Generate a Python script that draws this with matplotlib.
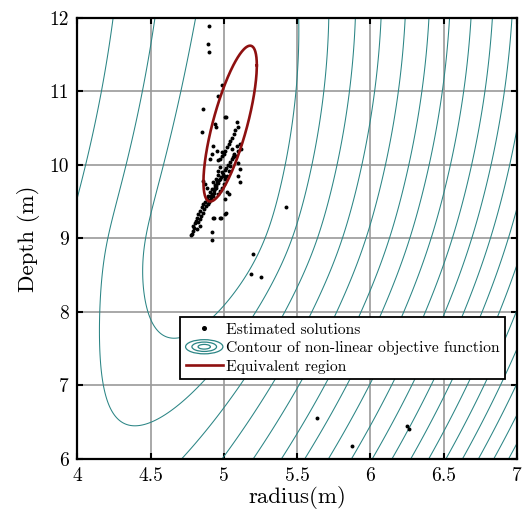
import numpy as np
import matplotlib
matplotlib.use("Agg")
import matplotlib.pyplot as plt
from matplotlib.patches import Ellipse
from matplotlib.legend_handler import HandlerBase
from matplotlib.lines import Line2D

plt.rcParams['font.family'] = 'serif'
plt.rcParams['font.serif'] = ['cmr10', 'DejaVu Serif']
plt.rcParams['mathtext.fontset'] = 'cm'
plt.rcParams['axes.formatter.use_mathtext'] = True

# ---------------- data ----------------
x_ticks = [4, 4.5, 5, 5.5, 6, 6.5, 7]
x_ticklabels = ['4', '4.5', '5', '5.5', '6', '6.5', '7']
y_ticks = [6, 7, 8, 9, 10, 11, 12]
y_ticklabels = ['6', '7', '8', '9', '10', '11', '12']

# estimated solutions (radius, depth)
sol_radius = [4.902, 4.893, 4.898, 4.986, 4.963, 4.861, 4.854, 5.014, 5.425, 5.198, 5.186, 5.256,
              4.775, 4.918, 4.918, 4.934, 4.980, 5.014, 5.634, 5.875, 6.247, 6.261,
              5.088, 5.100, 5.077, 5.066, 5.054, 5.043, 5.032, 5.020, 5.009, 4.998, 4.986, 4.975, 4.963,
              5.009, 4.941, 4.948, 4.929, 4.952, 4.918, 4.907, 4.986, 5.054, 5.066, 5.088, 5.100,
              5.111, 5.118, 5.054, 5.077, 5.100, 5.111, 5.100, 5.111, 5.043, 5.032, 5.020, 5.009,
              4.975, 4.963, 4.986, 4.998, 4.975, 4.952, 4.929, 4.941, 4.918, 4.907, 4.895, 4.884,
              4.873, 4.861, 4.850, 4.839, 4.827, 4.816, 4.811, 4.804, 4.793, 4.782, 4.998, 4.986,
              4.975, 4.963, 5.020, 5.009, 5.032, 4.861, 4.873, 4.884, 4.929, 5.009, 4.975, 4.839,
              4.816, 4.940, 4.955, 4.930, 4.925, 4.915, 4.905, 4.950, 4.960, 4.935, 4.945,
              4.900, 4.890, 4.912, 4.922, 4.932, 4.944, 4.958, 4.970, 4.982, 4.994, 5.006, 5.018,
              5.030, 5.045, 5.060, 5.072, 4.880, 4.868, 4.858, 4.846, 4.835, 4.823, 4.800, 4.790]
sol_depth = [11.89, 11.64, 11.53, 11.09, 10.94, 10.76, 10.45, 10.65, 9.43, 8.78, 8.51, 8.47,
             9.05, 9.08, 8.98, 9.28, 9.28, 9.34, 6.555, 6.17, 6.45, 6.40,
             10.58, 10.51, 10.47, 10.42, 10.37, 10.33, 10.28, 10.24, 10.19, 10.15, 10.12, 10.08, 10.06,
             10.65, 10.56, 10.51, 10.26, 10.19, 10.15, 10.08, 10.17, 10.22, 10.15, 10.26, 10.19,
             10.28, 10.22, 10.08, 10.12, 10.03, 9.94, 9.85, 9.76, 9.99, 9.92, 9.85, 9.81,
             9.97, 9.92, 9.90, 9.85, 9.81, 9.78, 9.76, 9.72, 9.67, 9.63, 9.58, 9.53,
             9.50, 9.47, 9.42, 9.37, 9.33, 9.28, 9.24, 9.21, 9.17, 9.06, 9.74, 9.69,
             9.65, 9.60, 9.63, 9.53, 9.60, 9.78, 9.74, 9.69, 9.28, 9.33, 9.27, 9.17,
             9.12, 9.70, 9.75, 9.62, 9.58, 9.55, 9.52, 9.80, 9.86, 9.66, 9.71,
             9.49, 9.46, 9.57, 9.60, 9.66, 9.68, 9.75, 9.79, 9.84, 9.88, 9.93, 9.96,
             10.00, 10.04, 10.10, 10.13, 9.44, 9.40, 9.35, 9.30, 9.26, 9.22, 9.14, 9.10]

# equivalent region (ellipse): centre and covariance-like shape
ell_center = (5.043, 10.56)
ell_sxx, ell_syy, ell_sxy = 0.0331, 1.1236, 0.1442

# objective function shape parameters and contour levels
valley_axis = (4.90, 0.15, -0.019)   # a(y) = c0 + c1 (y-9) + c2 (y-9)^2
skew_kappa = 0.32
closure = (0.1186, 1.29, 0.006)      # lower coefficient, power, upper coefficient
contour_levels = [0.42, 0.63, 0.84, 1.06, 1.28, 1.51, 1.72, 1.95, 2.19, 2.42, 2.65, 2.88,
                  3.11, 3.34, 3.57, 3.80, 4.03, 4.26, 4.49, 4.72, 4.95, 5.18, 5.41]

TEAL = '#2b8585'
RED = '#8e1010'


def softplus(s, k=4.0):
    return np.logaddexp(0, k * s) / k


# ---------------- objective function ----------------
def objective(r, d):
    c0, c1, c2 = valley_axis
    a = c0 + c1 * (d - 9) + c2 * (d - 9) ** 2
    u = r - a
    ue = (np.exp(skew_kappa * u) - 1) / skew_kappa
    lo, pw, up = closure
    s = 9 - d
    g = lo * softplus(s) ** pw + up * softplus(-s) ** 2
    return np.sqrt(ue ** 2 + g)


rr, dd = np.meshgrid(np.linspace(3.9, 7.1, 500), np.linspace(5.8, 12.2, 700))
ff = objective(rr, dd)

fig = plt.figure(figsize=(5.25, 5.22), dpi=100)
ax = fig.add_axes([0.147, 0.121, 0.838, 0.845])

ax.contour(rr, dd, ff, levels=contour_levels, colors=TEAL, linewidths=0.75, zorder=2)
ax.scatter(sol_radius, sol_depth, s=8, c='black', linewidths=0, zorder=4)

t = np.linspace(0, 2 * np.pi, 300)
L = np.linalg.cholesky(np.array([[ell_sxx, ell_sxy], [ell_sxy, ell_syy]]))
pts = L @ np.vstack([np.cos(t), np.sin(t)])
ax.plot(ell_center[0] + pts[0], ell_center[1] + pts[1], color=RED, lw=1.9, zorder=5)

ax.set_xlim(4, 7)
ax.set_ylim(6, 12)
ax.set_xticks(x_ticks)
ax.set_yticks(y_ticks)
ax.set_xticklabels(x_ticklabels)
ax.set_yticklabels(y_ticklabels)
ax.grid(True, color='#9a9a9a', lw=1.2, zorder=1)
ax.set_axisbelow(True)
ax.tick_params(direction='in', top=True, right=True, length=4, width=1.5, labelsize=14, pad=6)
for s in ax.spines.values():
    s.set_linewidth(1.6)
ax.set_xlabel('radius(m)', fontsize=16.5, labelpad=1)
ax.set_ylabel('Depth (m)', fontsize=16.5, labelpad=7)


class ContourHandler(HandlerBase):
    def create_artists(self, legend, orig_handle, xdescent, ydescent, width, height, fontsize, trans):
        cx = width / 2 - xdescent
        cy = height / 2 - ydescent
        arts = []
        for k in (1.0, 0.66, 0.33):
            e = Ellipse((cx, cy), width * 1.0 * k, height * 1.3 * k, fill=False,
                        edgecolor=TEAL, lw=0.9, transform=trans)
            arts.append(e)
        return arts


class ContourProxy:
    pass


h_pts = Line2D([], [], marker='o', ls='none', color='black', markersize=2.6)
h_cnt = ContourProxy()
h_ell = Line2D([], [], color=RED, lw=1.9)
leg = ax.legend([h_pts, h_cnt, h_ell],
                ['Estimated solutions', 'Contour of non-linear objective function', 'Equivalent region'],
                handler_map={ContourProxy: ContourHandler()},
                loc='lower left', bbox_to_anchor=(0.234, 0.181), fontsize=11.2,
                frameon=True, fancybox=False, framealpha=1, edgecolor='black',
                borderpad=0.35, labelspacing=0.28, handlelength=2.4, handletextpad=0.2,
                borderaxespad=0)
leg.get_frame().set_linewidth(1.3)
leg.set_zorder(10)

fig.savefig('out.png', dpi=100)
